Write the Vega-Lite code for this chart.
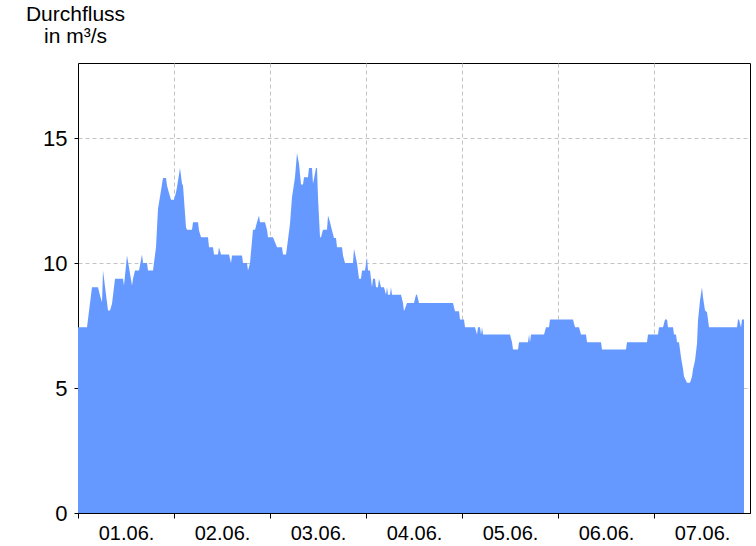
{
  "$schema": "https://vega.github.io/schema/vega-lite/v6.json",
  "width": 672,
  "height": 450,
  "autosize": "none",
  "padding": {"left": 78, "top": 63, "right": 6, "bottom": 33},
  "background": "white",
  "config": {
    "view": {"stroke": "black", "strokeWidth": 1},
    "font": "Liberation Sans",
    "axis": {
      "labelFont": "Liberation Sans",
      "titleFont": "Liberation Sans",
      "labelFontSize": 20,
      "labelColor": "black",
      "domainColor": "black",
      "tickColor": "black",
      "tickSize": 5,
      "labelPadding": 5,
      "gridColor": "#c4c4c4",
      "gridDash": [4, 3],
      "gridWidth": 1,
      "zindex": 1
    }
  },
  "data": {
    "values": [
      {"t": "2023-06-01T00:00", "v": 7.43},
      {"t": "2023-06-01T02:15", "v": 7.43},
      {"t": "2023-06-01T03:30", "v": 9.03},
      {"t": "2023-06-01T05:00", "v": 9.03},
      {"t": "2023-06-01T05:30", "v": 8.7},
      {"t": "2023-06-01T06:00", "v": 8.43},
      {"t": "2023-06-01T06:15", "v": 9.7},
      {"t": "2023-06-01T07:30", "v": 8.1},
      {"t": "2023-06-01T08:00", "v": 8.1},
      {"t": "2023-06-01T08:30", "v": 8.37},
      {"t": "2023-06-01T09:15", "v": 9.37},
      {"t": "2023-06-01T11:15", "v": 9.37},
      {"t": "2023-06-01T11:30", "v": 9.1},
      {"t": "2023-06-01T12:15", "v": 10.3},
      {"t": "2023-06-01T13:30", "v": 9.1},
      {"t": "2023-06-01T13:45", "v": 9.37},
      {"t": "2023-06-01T14:15", "v": 9.7},
      {"t": "2023-06-01T15:15", "v": 9.7},
      {"t": "2023-06-01T16:00", "v": 10.34},
      {"t": "2023-06-01T16:15", "v": 10.0},
      {"t": "2023-06-01T17:15", "v": 10.0},
      {"t": "2023-06-01T17:30", "v": 9.7},
      {"t": "2023-06-01T18:45", "v": 9.7},
      {"t": "2023-06-01T19:30", "v": 10.63},
      {"t": "2023-06-01T20:00", "v": 12.17},
      {"t": "2023-06-01T20:45", "v": 12.9},
      {"t": "2023-06-01T21:15", "v": 13.4},
      {"t": "2023-06-01T22:00", "v": 13.4},
      {"t": "2023-06-01T22:15", "v": 13.1},
      {"t": "2023-06-01T22:45", "v": 12.8},
      {"t": "2023-06-01T23:15", "v": 12.53},
      {"t": "2023-06-02T00:00", "v": 12.53},
      {"t": "2023-06-02T00:30", "v": 12.83},
      {"t": "2023-06-02T00:45", "v": 13.03},
      {"t": "2023-06-02T01:30", "v": 13.8},
      {"t": "2023-06-02T02:00", "v": 13.17},
      {"t": "2023-06-02T02:15", "v": 13.1},
      {"t": "2023-06-02T03:00", "v": 11.43},
      {"t": "2023-06-02T03:15", "v": 11.33},
      {"t": "2023-06-02T04:30", "v": 11.33},
      {"t": "2023-06-02T04:45", "v": 11.63},
      {"t": "2023-06-02T06:00", "v": 11.63},
      {"t": "2023-06-02T06:15", "v": 11.3},
      {"t": "2023-06-02T06:45", "v": 11.03},
      {"t": "2023-06-02T08:30", "v": 11.03},
      {"t": "2023-06-02T08:45", "v": 10.63},
      {"t": "2023-06-02T09:45", "v": 10.63},
      {"t": "2023-06-02T10:00", "v": 10.34},
      {"t": "2023-06-02T11:00", "v": 10.34},
      {"t": "2023-06-02T11:15", "v": 10.63},
      {"t": "2023-06-02T11:45", "v": 10.34},
      {"t": "2023-06-02T13:45", "v": 10.34},
      {"t": "2023-06-02T14:15", "v": 10.0},
      {"t": "2023-06-02T14:30", "v": 10.3},
      {"t": "2023-06-02T17:00", "v": 10.3},
      {"t": "2023-06-02T17:15", "v": 10.0},
      {"t": "2023-06-02T18:15", "v": 10.0},
      {"t": "2023-06-02T18:30", "v": 9.7},
      {"t": "2023-06-02T19:00", "v": 10.0},
      {"t": "2023-06-02T19:45", "v": 11.33},
      {"t": "2023-06-02T20:15", "v": 11.33},
      {"t": "2023-06-02T20:45", "v": 11.63},
      {"t": "2023-06-02T21:15", "v": 11.9},
      {"t": "2023-06-02T21:30", "v": 11.63},
      {"t": "2023-06-02T22:45", "v": 11.63},
      {"t": "2023-06-02T23:15", "v": 11.33},
      {"t": "2023-06-02T23:30", "v": 11.03},
      {"t": "2023-06-03T00:45", "v": 11.03},
      {"t": "2023-06-03T01:45", "v": 10.63},
      {"t": "2023-06-03T03:00", "v": 10.63},
      {"t": "2023-06-03T03:15", "v": 10.34},
      {"t": "2023-06-03T04:00", "v": 10.34},
      {"t": "2023-06-03T04:15", "v": 10.63},
      {"t": "2023-06-03T05:00", "v": 11.57},
      {"t": "2023-06-03T05:30", "v": 12.63},
      {"t": "2023-06-03T06:15", "v": 13.43},
      {"t": "2023-06-03T06:45", "v": 14.4},
      {"t": "2023-06-03T07:15", "v": 13.97},
      {"t": "2023-06-03T07:45", "v": 13.14},
      {"t": "2023-06-03T08:15", "v": 13.14},
      {"t": "2023-06-03T08:30", "v": 13.43},
      {"t": "2023-06-03T09:30", "v": 13.43},
      {"t": "2023-06-03T09:45", "v": 13.8},
      {"t": "2023-06-03T10:30", "v": 13.8},
      {"t": "2023-06-03T10:45", "v": 13.17},
      {"t": "2023-06-03T11:30", "v": 13.8},
      {"t": "2023-06-03T11:45", "v": 13.8},
      {"t": "2023-06-03T12:00", "v": 12.63},
      {"t": "2023-06-03T12:30", "v": 11.03},
      {"t": "2023-06-03T12:45", "v": 11.03},
      {"t": "2023-06-03T13:15", "v": 11.33},
      {"t": "2023-06-03T14:15", "v": 11.33},
      {"t": "2023-06-03T14:30", "v": 11.9},
      {"t": "2023-06-03T15:00", "v": 11.63},
      {"t": "2023-06-03T15:30", "v": 11.3},
      {"t": "2023-06-03T16:00", "v": 11.0},
      {"t": "2023-06-03T16:30", "v": 11.0},
      {"t": "2023-06-03T16:45", "v": 10.63},
      {"t": "2023-06-03T18:00", "v": 10.63},
      {"t": "2023-06-03T18:15", "v": 10.3},
      {"t": "2023-06-03T18:45", "v": 10.0},
      {"t": "2023-06-03T20:45", "v": 10.0},
      {"t": "2023-06-03T21:00", "v": 10.57},
      {"t": "2023-06-03T21:45", "v": 10.0},
      {"t": "2023-06-03T22:15", "v": 9.37},
      {"t": "2023-06-03T22:45", "v": 9.37},
      {"t": "2023-06-03T23:00", "v": 9.7},
      {"t": "2023-06-03T23:45", "v": 9.7},
      {"t": "2023-06-04T00:15", "v": 10.23},
      {"t": "2023-06-04T00:30", "v": 9.7},
      {"t": "2023-06-04T01:00", "v": 9.7},
      {"t": "2023-06-04T01:30", "v": 9.03},
      {"t": "2023-06-04T01:45", "v": 9.37},
      {"t": "2023-06-04T02:15", "v": 9.37},
      {"t": "2023-06-04T02:30", "v": 9.03},
      {"t": "2023-06-04T03:00", "v": 9.03},
      {"t": "2023-06-04T03:15", "v": 9.37},
      {"t": "2023-06-04T03:45", "v": 9.03},
      {"t": "2023-06-04T04:30", "v": 9.03},
      {"t": "2023-06-04T05:00", "v": 8.73},
      {"t": "2023-06-04T05:15", "v": 9.03},
      {"t": "2023-06-04T05:30", "v": 8.73},
      {"t": "2023-06-04T06:00", "v": 8.73},
      {"t": "2023-06-04T06:15", "v": 9.03},
      {"t": "2023-06-04T06:30", "v": 8.73},
      {"t": "2023-06-04T08:45", "v": 8.73},
      {"t": "2023-06-04T09:15", "v": 8.4},
      {"t": "2023-06-04T09:30", "v": 8.07},
      {"t": "2023-06-04T10:15", "v": 8.4},
      {"t": "2023-06-04T12:00", "v": 8.4},
      {"t": "2023-06-04T12:30", "v": 8.73},
      {"t": "2023-06-04T12:45", "v": 8.73},
      {"t": "2023-06-04T13:15", "v": 8.4},
      {"t": "2023-06-04T21:45", "v": 8.4},
      {"t": "2023-06-04T22:15", "v": 8.07},
      {"t": "2023-06-04T23:15", "v": 8.07},
      {"t": "2023-06-04T23:30", "v": 7.74},
      {"t": "2023-06-05T00:30", "v": 7.74},
      {"t": "2023-06-05T00:45", "v": 7.43},
      {"t": "2023-06-05T03:15", "v": 7.43},
      {"t": "2023-06-05T03:45", "v": 7.14},
      {"t": "2023-06-05T04:00", "v": 7.43},
      {"t": "2023-06-05T04:30", "v": 7.43},
      {"t": "2023-06-05T04:45", "v": 7.14},
      {"t": "2023-06-05T05:00", "v": 7.43},
      {"t": "2023-06-05T05:15", "v": 7.14},
      {"t": "2023-06-05T12:00", "v": 7.14},
      {"t": "2023-06-05T12:30", "v": 6.83},
      {"t": "2023-06-05T12:45", "v": 6.54},
      {"t": "2023-06-05T14:00", "v": 6.54},
      {"t": "2023-06-05T14:15", "v": 6.83},
      {"t": "2023-06-05T16:30", "v": 6.83},
      {"t": "2023-06-05T16:45", "v": 7.14},
      {"t": "2023-06-05T17:00", "v": 6.83},
      {"t": "2023-06-05T17:15", "v": 7.14},
      {"t": "2023-06-05T20:30", "v": 7.14},
      {"t": "2023-06-05T21:00", "v": 7.43},
      {"t": "2023-06-05T21:45", "v": 7.43},
      {"t": "2023-06-05T22:00", "v": 7.74},
      {"t": "2023-06-06T03:45", "v": 7.74},
      {"t": "2023-06-06T04:15", "v": 7.43},
      {"t": "2023-06-06T05:15", "v": 7.43},
      {"t": "2023-06-06T05:45", "v": 7.14},
      {"t": "2023-06-06T07:00", "v": 7.14},
      {"t": "2023-06-06T07:15", "v": 6.83},
      {"t": "2023-06-06T10:45", "v": 6.83},
      {"t": "2023-06-06T11:00", "v": 6.54},
      {"t": "2023-06-06T17:00", "v": 6.54},
      {"t": "2023-06-06T17:15", "v": 6.83},
      {"t": "2023-06-06T22:15", "v": 6.83},
      {"t": "2023-06-06T22:30", "v": 7.14},
      {"t": "2023-06-07T01:00", "v": 7.14},
      {"t": "2023-06-07T01:15", "v": 7.43},
      {"t": "2023-06-07T02:15", "v": 7.43},
      {"t": "2023-06-07T02:45", "v": 7.74},
      {"t": "2023-06-07T03:15", "v": 7.74},
      {"t": "2023-06-07T03:30", "v": 7.43},
      {"t": "2023-06-07T04:45", "v": 7.43},
      {"t": "2023-06-07T05:00", "v": 7.14},
      {"t": "2023-06-07T05:30", "v": 7.14},
      {"t": "2023-06-07T05:45", "v": 6.83},
      {"t": "2023-06-07T06:15", "v": 6.83},
      {"t": "2023-06-07T06:45", "v": 6.23},
      {"t": "2023-06-07T07:15", "v": 5.77},
      {"t": "2023-06-07T07:30", "v": 5.46},
      {"t": "2023-06-07T08:15", "v": 5.21},
      {"t": "2023-06-07T09:00", "v": 5.21},
      {"t": "2023-06-07T09:30", "v": 5.46},
      {"t": "2023-06-07T09:45", "v": 5.74},
      {"t": "2023-06-07T10:15", "v": 6.1},
      {"t": "2023-06-07T10:45", "v": 6.77},
      {"t": "2023-06-07T11:00", "v": 7.7},
      {"t": "2023-06-07T11:30", "v": 8.5},
      {"t": "2023-06-07T12:00", "v": 9.03},
      {"t": "2023-06-07T12:15", "v": 8.63},
      {"t": "2023-06-07T12:45", "v": 8.1},
      {"t": "2023-06-07T13:15", "v": 8.03},
      {"t": "2023-06-07T13:30", "v": 7.74},
      {"t": "2023-06-07T13:45", "v": 7.43},
      {"t": "2023-06-07T20:45", "v": 7.43},
      {"t": "2023-06-07T21:00", "v": 7.74},
      {"t": "2023-06-07T21:15", "v": 7.74},
      {"t": "2023-06-07T21:45", "v": 7.43},
      {"t": "2023-06-07T22:00", "v": 7.74},
      {"t": "2023-06-07T22:30", "v": 7.74}
    ]
  },
  "mark": {"type": "area", "color": "#6699ff", "interpolate": "linear", "clip": true},
  "encoding": {
    "x": {
      "field": "t",
      "type": "temporal",
      "scale": {
        "domain": [
          {"year": 2023, "month": 6, "date": 1},
          {"year": 2023, "month": 6, "date": 8}
        ]
      },
      "axis": {
        "title": null,
        "values": [
          {"year": 2023, "month": 6, "date": 1},
          {"year": 2023, "month": 6, "date": 2},
          {"year": 2023, "month": 6, "date": 3},
          {"year": 2023, "month": 6, "date": 4},
          {"year": 2023, "month": 6, "date": 5},
          {"year": 2023, "month": 6, "date": 6},
          {"year": 2023, "month": 6, "date": 7}
        ],
        "format": "%d.%m.",
        "labelFontSize": 20,
        "labelOffset": 48,
        "labelAlign": "center",
        "labelOverlap": false,
        "labelFlush": false,
        "labelBound": false
      }
    },
    "y": {
      "field": "v",
      "type": "quantitative",
      "scale": {"domain": [0, 18], "nice": false, "zero": true},
      "axis": {
        "values": [0, 5, 10, 15],
        "labelFontSize": 22,
        "tickSize": 4,
        "labelPadding": 7,
        "title": ["Durchfluss", "in m³/s"],
        "titleFontSize": 21,
        "titleFontWeight": "normal",
        "titleColor": "black",
        "titleAngle": 0,
        "titleAlign": "center",
        "titleBaseline": "alphabetic",
        "titleX": -3,
        "titleY": -43,
        "titleLineHeight": 22
      }
    }
  }
}
